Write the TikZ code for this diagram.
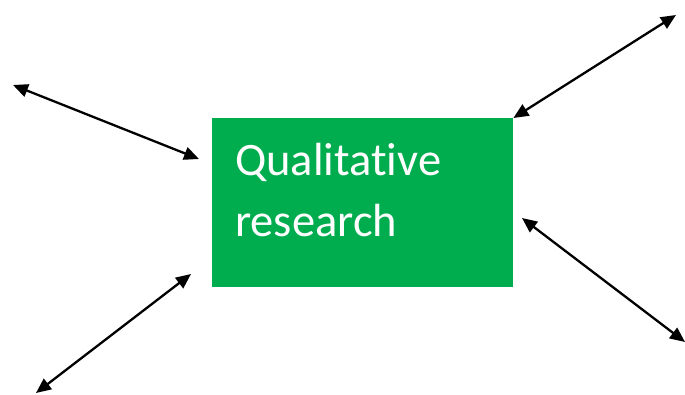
\documentclass[tikz,border=0pt]{standalone}
\usepackage{fontspec}
\setmainfont{Carlito}[Ligatures=NoCommon]
\usepackage{tikz}
\usetikzlibrary{positioning,calc,arrows.meta}
\definecolor{boxgreen}{HTML}{00AD4E}

\begin{document}
\begin{tikzpicture}[x=1pt,y=-1pt,
  topic/.style={fill=boxgreen,text=white,anchor=north west,minimum width=301pt,minimum height=169pt,
    text width=255pt,inner xsep=23pt,align=left,font=\fontsize{46.5}{61}\selectfont},
  link/.style={{Triangle[length=15pt,width=13pt]}-{Triangle[length=15pt,width=13pt]},line width=2.3pt}]

\useasboundingbox (0,0) rectangle (685,395);

\node[topic] (qr) at (212,118) {Qualitative\\research\rule[-25pt]{0pt}{0pt}};

\coordinate (c1) at (13,85);
\coordinate (c2) at (676,15);
\coordinate (c3) at (36,393);
\coordinate (c4) at (685,342);

\coordinate (d1) at (199,159);
\coordinate (d3) at (191,274);
\coordinate (d4) at (522,218);

\draw[link] (c1)--(d1);
\draw[link] (c2)--(qr.north east);
\draw[link] (c3)--(d3);
\draw[link] (c4)--(d4);
\end{tikzpicture}
\end{document}
